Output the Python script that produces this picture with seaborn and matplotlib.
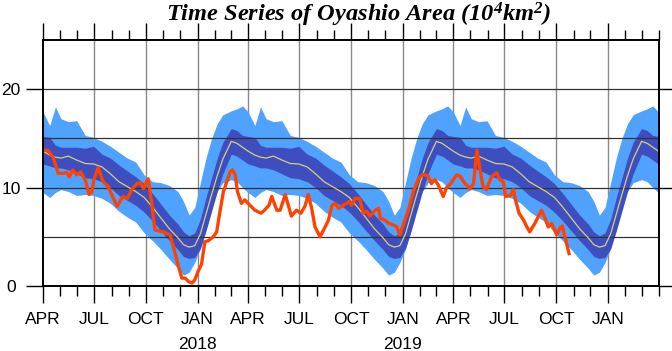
import numpy as np
import pandas as pd
import matplotlib
matplotlib.use("Agg")
import matplotlib.pyplot as plt
import matplotlib.dates as mdates
import seaborn as sns

# ---- climatology (one annual cycle, days counted from 1 April) ----
clim_day = [0, 12, 22, 32, 45, 60, 75, 90, 105, 120, 135, 150, 165, 180, 195,
            210, 225, 240, 250, 260, 270, 280, 290, 300, 310, 320, 335, 345, 355, 365]
clim_mean = [13.7, 13.3, 13.1, 13.0, 13.2, 12.8, 12.45, 12.4, 12.1, 11.4, 10.6, 10.1, 9.6, 9.0, 8.0,
             6.9, 5.8, 4.9, 4.2, 3.95, 4.1, 5.3, 7.3, 9.3, 11.2, 12.9, 14.7, 14.5, 14.1, 13.7]
dark_hi = [15.2, 15.1, 14.3, 14.1, 14.1, 14.1, 14.0, 14.2, 13.4, 13.0, 12.3, 11.7, 11.1, 10.4, 9.4,
           8.3, 7.2, 6.3, 5.5, 5.1, 5.4, 6.8, 9.0, 11.0, 13.0, 14.6, 16.0, 15.8, 15.3, 15.2]
dark_lo = [12.4, 12.2, 12.0, 12.0, 11.8, 11.4, 11.0, 10.9, 10.6, 10.0, 9.2, 8.7, 8.2, 7.5, 6.6,
           5.6, 4.6, 3.7, 3.0, 2.8, 2.9, 3.8, 5.6, 7.6, 9.6, 11.4, 13.4, 13.2, 12.8, 12.4]
light_hi = [17.7, 16.3, 18.2, 17.0, 16.7, 16.8, 15.3, 15.1, 14.7, 14.2, 13.6, 13.0, 12.6, 11.3, 10.6,
            10.5, 10.2, 9.6, 8.6, 7.2, 8.0, 10.5, 13.0, 15.0, 16.5, 17.4, 17.8, 18.0, 18.3, 17.7]
light_lo = [9.5, 9.0, 9.5, 9.8, 9.6, 9.2, 9.3, 9.2, 8.9, 8.4, 7.6, 7.0, 6.5, 5.4, 4.6,
            3.7, 2.7, 1.8, 1.1, 1.4, 2.4, 3.8, 5.8, 8.3, 9.6, 10.5, 10.8, 10.6, 10.0, 9.5]
cycle_starts = ["2017-04-01", "2018-04-01", "2019-04-01"]

# ---- observed series (days since 2017-04-01) ----
obs_day = [0, 8, 18, 27, 36, 42, 47, 53, 60, 67, 75, 82, 87, 91, 98, 107, 116, 122, 132, 142,
           150, 158, 167, 173, 179, 187, 193, 199, 214, 226, 232, 241, 247, 253, 259, 265, 270,
           276, 282, 288, 294, 303, 309, 315, 321, 327, 333, 337, 342, 346, 353, 359, 365, 377,
           388, 394, 402, 407, 416, 422, 431, 442, 451, 459, 466, 472, 478, 484,
           493, 502, 508, 514, 520, 526, 534, 540, 545, 549, 555, 563, 570, 576, 582, 591, 597,
           600, 608, 614, 623, 629, 635, 641, 650, 659, 668, 676, 685, 691, 697, 703, 712, 718, 724,
           736, 742, 751, 760, 766, 772, 777, 783, 789, 798, 807, 813, 819, 823, 831, 837, 840,
           847, 855, 861, 866, 875, 887, 893, 899, 905, 914, 920, 924, 929, 936]
obs_val = [13.8, 13.8, 13.1, 11.45, 11.45, 11.55, 11.1, 11.8, 11.3, 11.6, 10.8, 9.3, 9.6, 10.9, 12.0,
           10.6, 10.1, 9.3, 8.1, 9.1, 8.9, 9.8, 10.4, 10.5, 9.9, 10.9, 8.6, 5.7, 5.5, 5.2, 4.0, 2.0,
           0.8, 0.8, 0.45, 0.3, 0.6, 1.5, 2.2, 4.5, 4.6, 5.0, 5.5, 7.6, 9.6, 10.6, 11.6, 11.8, 11.3,
           9.6, 8.4, 8.75, 8.4, 7.7, 7.4, 7.7, 8.2, 9.1, 7.7, 7.7, 9.3, 7.1, 7.7, 7.4, 8.1, 9.3, 7.9, 6.0,
           5.0, 6.0, 6.7, 8.2, 8.4, 7.9, 8.2, 8.4, 8.6, 8.2, 8.9, 8.9, 7.4, 7.6, 7.1, 7.7, 7.9,
           6.9, 6.7, 6.4, 6.2, 6.05, 5.2, 6.2, 7.7, 9.6, 10.9, 11.35, 11.2, 10.4, 10.8, 10.3, 9.1, 10.0, 10.3,
           11.3, 11.15, 10.4, 9.9, 10.4, 13.8, 12.0, 10.1, 9.8, 11.1, 11.5, 10.8, 10.6, 9.1, 9.2, 9.8, 8.9,
           7.4, 6.7, 6.0, 5.5, 6.35, 7.7, 6.9, 6.0, 6.35, 5.2, 5.9, 6.1, 4.9, 3.3]

month_labels = ["APR", "JUL", "OCT", "JAN"]
year_labels = ["2018", "2019"]
y_ticks = [0, 10, 20]

# ---- build tables ----
frames = []
for s in cycle_starts:
    d0 = pd.Timestamp(s)
    frames.append(pd.DataFrame({
        "date": d0 + pd.to_timedelta(clim_day, unit="D"),
        "mean": clim_mean, "dhi": dark_hi, "dlo": dark_lo,
        "lhi": light_hi, "llo": light_lo}))
clim = pd.concat(frames, ignore_index=True)
obs = pd.DataFrame({"date": pd.Timestamp("2017-04-01") + pd.to_timedelta(obs_day, unit="D"),
                    "val": obs_val})

W, H = 672, 351
fig = plt.figure(figsize=(W / 100, H / 100), dpi=100)
ax = fig.add_axes([43 / W, 1 - 286 / H, 616 / W, 246 / H])

ax.fill_between(clim["date"], clim["llo"], clim["lhi"], color="#50A2FF", lw=0, zorder=2)
ax.fill_between(clim["date"], clim["dlo"], clim["dhi"], color="#3F4EBF", lw=0, zorder=3)
sns.lineplot(data=clim, x="date", y="mean", estimator=None, errorbar=None, sort=False,
             color="#D6CF7E", lw=0.9, ax=ax, zorder=5)
sns.lineplot(data=obs, x="date", y="val", estimator=None, errorbar=None,
             color="#FF4200", lw=2.4, ax=ax, zorder=6)

ax.set_xlim(pd.Timestamp("2017-04-01"), pd.Timestamp("2020-04-01"))
ax.set_ylim(0, 25)
ax.set_xlabel("")
ax.set_ylabel("")

# grid
for v in [5, 10, 15, 20]:
    ax.axhline(v, color="#333333", lw=0.9, zorder=4)
quarters = pd.date_range("2017-07-01", "2020-01-01", freq="3MS")
for q in quarters:
    ax.axvline(q, color="#8a8a8a", lw=1.0, zorder=1)

majors = pd.date_range("2017-04-01", "2020-01-01", freq="3MS")
ax.set_xticks(majors)
ax.set_xticklabels([month_labels[i % 4] for i in range(len(majors))],
                   family="Liberation Sans", fontsize=12.5)
ax.xaxis.set_minor_locator(mdates.MonthLocator())
ax.set_yticks(y_ticks)
ax.set_yticklabels([str(v) for v in y_ticks], family="Liberation Sans", fontsize=12.5, ha="center")

ax.tick_params(axis="x", which="major", direction="out", length=12, width=1.0,
               top=True, bottom=True, labeltop=False, pad=7, colors="black")
ax.tick_params(axis="x", which="minor", direction="out", length=7, width=1.0,
               top=True, bottom=True)
ax.tick_params(axis="y", which="major", direction="out", length=12, width=1.0,
               left=True, right=True, labelright=False, pad=11)
for sp in ax.spines.values():
    sp.set_linewidth(1.4)
    sp.set_zorder(10)

for lab, yr in zip(year_labels, [2018, 2019]):
    ax.text(pd.Timestamp(f"{yr}-01-01"), -0.238, lab, transform=ax.get_xaxis_transform(),
            ha="center", va="center", family="Liberation Sans", fontsize=12.5)

fig.text(359 / W, 1 - 15 / H, r"Time Series of Oyashio Area (10$\mathregular{^4}$km$\mathregular{^2}$)",
         ha="center", va="center", family="Liberation Serif", fontsize=17.6,
         fontweight="bold", fontstyle="italic")

fig.savefig("out.png", dpi=100)
